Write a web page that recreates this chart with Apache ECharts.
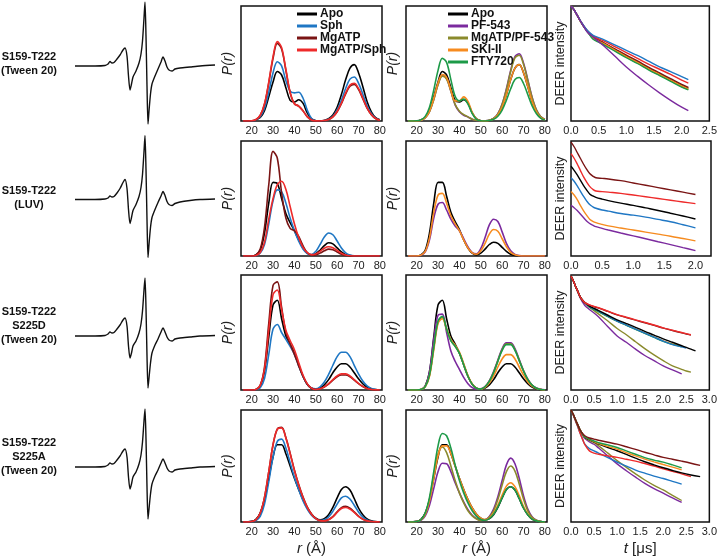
<!DOCTYPE html>
<html>
<head>
<meta charset="utf-8">
<script src="https://cdn.jsdelivr.net/npm/echarts@6/dist/echarts.min.js"></script>
<style>
html, body { margin: 0; padding: 0; background: #fff; }
#main { width: 720px; height: 557px; }
</style>
</head>
<body>
<div id="main"></div>
<script>
// distance axis (Å) shared by all P(r) curves
var R = [16, 20, 22, 24, 26, 28, 30, 32, 34, 36, 38, 40, 42, 44, 46, 48, 50, 52, 54, 56, 58, 60, 62, 64, 66, 68, 70, 72, 74, 76, 78, 80];

// row 1 : S159-T222 (Tween 20)
var prRow1A = {
  'Apo':       [0, 0, 0.01, 0.03, 0.09, 0.21, 0.34, 0.43, 0.40, 0.29, 0.18, 0.165, 0.185, 0.155, 0.07, 0.018, 0.003, 0, 0.005, 0.02, 0.053, 0.12, 0.23, 0.36, 0.46, 0.49, 0.42, 0.30, 0.17, 0.08, 0.03, 0.01],
  'Sph':       [0, 0, 0.01, 0.036, 0.11, 0.25, 0.42, 0.515, 0.48, 0.35, 0.26, 0.245, 0.25, 0.2, 0.095, 0.022, 0.003, 0, 0.004, 0.015, 0.042, 0.096, 0.18, 0.285, 0.364, 0.383, 0.33, 0.235, 0.135, 0.065, 0.025, 0.008],
  'MgATP':     [0, 0.002, 0.012, 0.048, 0.145, 0.33, 0.545, 0.675, 0.625, 0.44, 0.245, 0.15, 0.13, 0.09, 0.038, 0.009, 0.001, 0, 0.004, 0.013, 0.035, 0.08, 0.15, 0.236, 0.302, 0.318, 0.275, 0.195, 0.112, 0.055, 0.021, 0.007],
  'MgATP/Sph': [0, 0.002, 0.013, 0.05, 0.15, 0.34, 0.56, 0.69, 0.64, 0.45, 0.25, 0.15, 0.13, 0.09, 0.038, 0.009, 0.001, 0, 0.004, 0.013, 0.036, 0.083, 0.155, 0.244, 0.312, 0.328, 0.283, 0.2, 0.115, 0.056, 0.022, 0.007]
};
var prRow1B = {
  'Apo':          [0, 0, 0.01, 0.03, 0.09, 0.21, 0.34, 0.43, 0.40, 0.29, 0.18, 0.165, 0.185, 0.155, 0.07, 0.018, 0.003, 0, 0.005, 0.02, 0.053, 0.12, 0.23, 0.36, 0.46, 0.49, 0.42, 0.30, 0.17, 0.08, 0.03, 0.01],
  'PF-543':       [0, 0.001, 0.007, 0.028, 0.084, 0.19, 0.32, 0.395, 0.37, 0.26, 0.14, 0.08, 0.05, 0.035, 0.016, 0.005, 0.001, 0.002, 0.007, 0.023, 0.064, 0.148, 0.28, 0.44, 0.56, 0.585, 0.505, 0.36, 0.21, 0.1, 0.04, 0.013],
  'MgATP/PF-543': [0, 0.001, 0.007, 0.028, 0.082, 0.185, 0.315, 0.39, 0.365, 0.26, 0.145, 0.085, 0.055, 0.036, 0.016, 0.005, 0.001, 0.002, 0.007, 0.022, 0.062, 0.144, 0.272, 0.43, 0.548, 0.572, 0.494, 0.352, 0.205, 0.098, 0.039, 0.013],
  'SKI-II':       [0, 0.001, 0.007, 0.029, 0.086, 0.197, 0.33, 0.405, 0.38, 0.27, 0.175, 0.175, 0.21, 0.17, 0.076, 0.018, 0.002, 0, 0.005, 0.019, 0.053, 0.12, 0.23, 0.36, 0.46, 0.49, 0.42, 0.30, 0.17, 0.08, 0.03, 0.01],
  'FTY720':       [0, 0.002, 0.01, 0.04, 0.12, 0.27, 0.44, 0.545, 0.51, 0.36, 0.215, 0.175, 0.19, 0.147, 0.065, 0.015, 0.002, 0, 0.004, 0.015, 0.041, 0.095, 0.18, 0.28, 0.36, 0.378, 0.326, 0.23, 0.133, 0.065, 0.025, 0.008]
};

// row 2 : S159-T222 (LUV)
var prRow2A = {
  'Apo':       [0, 0, 0.01, 0.05, 0.2, 0.46, 0.64, 0.63, 0.5, 0.37, 0.29, 0.22, 0.14, 0.07, 0.025, 0.01, 0.02, 0.05, 0.09, 0.115, 0.105, 0.07, 0.035, 0.012, 0.003, 0, 0, 0, 0, 0, 0, 0],
  'Sph':       [0, 0, 0.004, 0.025, 0.1, 0.28, 0.48, 0.575, 0.56, 0.46, 0.33, 0.22, 0.13, 0.06, 0.022, 0.012, 0.04, 0.1, 0.165, 0.2, 0.185, 0.13, 0.07, 0.028, 0.008, 0.001, 0, 0, 0, 0, 0, 0],
  'MgATP':     [0, 0, 0.01, 0.06, 0.25, 0.62, 0.91, 0.85, 0.55, 0.33, 0.24, 0.22, 0.17, 0.09, 0.03, 0.008, 0.01, 0.025, 0.045, 0.06, 0.055, 0.035, 0.015, 0.005, 0.001, 0, 0, 0, 0, 0, 0, 0],
  'MgATP/Sph': [0, 0, 0.005, 0.03, 0.12, 0.32, 0.5, 0.62, 0.65, 0.58, 0.43, 0.28, 0.16, 0.075, 0.03, 0.012, 0.018, 0.04, 0.068, 0.08, 0.072, 0.048, 0.024, 0.009, 0.002, 0, 0, 0, 0, 0, 0, 0]
};
var prRow2B = {
  'Apo':    [0, 0, 0.01, 0.05, 0.2, 0.46, 0.64, 0.64, 0.52, 0.38, 0.3, 0.23, 0.14, 0.07, 0.025, 0.01, 0.025, 0.06, 0.1, 0.12, 0.11, 0.075, 0.04, 0.015, 0.004, 0, 0, 0, 0, 0, 0, 0],
  'PF-543': [0, 0, 0.006, 0.035, 0.14, 0.33, 0.45, 0.465, 0.4, 0.32, 0.26, 0.22, 0.15, 0.08, 0.03, 0.02, 0.065, 0.16, 0.27, 0.32, 0.3, 0.21, 0.11, 0.045, 0.014, 0.003, 0, 0, 0, 0, 0, 0],
  'SKI-II': [0, 0, 0.008, 0.04, 0.16, 0.38, 0.53, 0.545, 0.46, 0.35, 0.28, 0.22, 0.14, 0.07, 0.028, 0.015, 0.045, 0.11, 0.19, 0.23, 0.215, 0.15, 0.08, 0.032, 0.01, 0.002, 0, 0, 0, 0, 0, 0]
};

// row 3 : S159-T222 S225D (Tween 20)
var prRow3A = {
  'Apo':       [0, 0, 0.005, 0.035, 0.16, 0.46, 0.74, 0.78, 0.62, 0.47, 0.4, 0.32, 0.22, 0.12, 0.05, 0.015, 0.006, 0.018, 0.045, 0.09, 0.15, 0.2, 0.228, 0.228, 0.2, 0.15, 0.097, 0.054, 0.025, 0.01, 0.003, 0],
  'Sph':       [0, 0, 0.003, 0.02, 0.1, 0.31, 0.53, 0.57, 0.5, 0.44, 0.38, 0.31, 0.21, 0.12, 0.05, 0.017, 0.01, 0.028, 0.07, 0.135, 0.215, 0.29, 0.328, 0.328, 0.29, 0.215, 0.14, 0.078, 0.036, 0.014, 0.004, 0.001],
  'MgATP':     [0, 0, 0.005, 0.04, 0.2, 0.58, 0.91, 0.94, 0.72, 0.5, 0.4, 0.31, 0.21, 0.12, 0.05, 0.015, 0.004, 0.01, 0.025, 0.05, 0.085, 0.115, 0.13, 0.13, 0.115, 0.085, 0.055, 0.03, 0.013, 0.005, 0.001, 0],
  'MgATP/Sph': [0, 0, 0.005, 0.04, 0.18, 0.52, 0.83, 0.87, 0.7, 0.52, 0.43, 0.35, 0.24, 0.13, 0.055, 0.016, 0.004, 0.01, 0.027, 0.055, 0.09, 0.122, 0.14, 0.14, 0.122, 0.09, 0.058, 0.032, 0.014, 0.005, 0.001, 0]
};
var prRow3B = {
  'Apo':          [0, 0, 0.005, 0.035, 0.16, 0.46, 0.74, 0.78, 0.62, 0.47, 0.4, 0.32, 0.22, 0.12, 0.05, 0.015, 0.006, 0.018, 0.045, 0.09, 0.15, 0.2, 0.228, 0.228, 0.2, 0.15, 0.097, 0.054, 0.025, 0.01, 0.003, 0],
  'PF-543':       [0, 0, 0.005, 0.035, 0.16, 0.44, 0.65, 0.66, 0.5, 0.34, 0.25, 0.18, 0.11, 0.055, 0.02, 0.006, 0.01, 0.03, 0.08, 0.16, 0.26, 0.36, 0.41, 0.41, 0.36, 0.265, 0.17, 0.095, 0.044, 0.017, 0.006, 0.002],
  'MgATP/PF-543': [0, 0, 0.004, 0.03, 0.13, 0.37, 0.59, 0.63, 0.53, 0.43, 0.38, 0.32, 0.22, 0.12, 0.05, 0.015, 0.008, 0.028, 0.076, 0.152, 0.253, 0.35, 0.402, 0.402, 0.35, 0.258, 0.167, 0.091, 0.043, 0.016, 0.005, 0.001],
  'SKI-II':       [0, 0, 0.004, 0.028, 0.12, 0.35, 0.58, 0.62, 0.53, 0.44, 0.39, 0.33, 0.23, 0.125, 0.052, 0.016, 0.007, 0.022, 0.06, 0.12, 0.2, 0.27, 0.308, 0.308, 0.27, 0.2, 0.13, 0.072, 0.033, 0.013, 0.004, 0.001],
  'FTY720':       [0, 0, 0.004, 0.03, 0.13, 0.37, 0.6, 0.64, 0.53, 0.43, 0.38, 0.32, 0.22, 0.12, 0.05, 0.015, 0.008, 0.028, 0.075, 0.15, 0.25, 0.345, 0.395, 0.395, 0.345, 0.255, 0.165, 0.09, 0.042, 0.016, 0.005, 0.001]
};

// row 4 : S159-T222 S225A (Tween 20)
var prRow4A = {
  'Apo':       [0, 0.006, 0.025, 0.08, 0.2, 0.39, 0.58, 0.69, 0.69, 0.61, 0.5, 0.39, 0.29, 0.2, 0.125, 0.07, 0.035, 0.02, 0.03, 0.065, 0.13, 0.215, 0.29, 0.315, 0.285, 0.21, 0.125, 0.065, 0.027, 0.01, 0.003, 0.001],
  'Sph':       [0, 0.003, 0.013, 0.05, 0.16, 0.36, 0.58, 0.72, 0.74, 0.66, 0.53, 0.4, 0.29, 0.19, 0.115, 0.06, 0.028, 0.015, 0.02, 0.045, 0.095, 0.16, 0.215, 0.23, 0.205, 0.15, 0.09, 0.045, 0.018, 0.006, 0.002, 0],
  'MgATP':     [0, 0.005, 0.02, 0.08, 0.22, 0.45, 0.69, 0.83, 0.845, 0.755, 0.615, 0.465, 0.335, 0.225, 0.135, 0.072, 0.032, 0.013, 0.011, 0.022, 0.048, 0.09, 0.128, 0.14, 0.124, 0.09, 0.053, 0.026, 0.011, 0.004, 0.001, 0],
  'MgATP/Sph': [0, 0.005, 0.02, 0.08, 0.22, 0.45, 0.69, 0.83, 0.84, 0.75, 0.61, 0.46, 0.33, 0.22, 0.13, 0.07, 0.03, 0.012, 0.01, 0.02, 0.045, 0.085, 0.12, 0.13, 0.115, 0.085, 0.05, 0.025, 0.01, 0.004, 0.001, 0]
};
var prRow4B = {
  'Apo':          [0, 0.006, 0.025, 0.08, 0.2, 0.39, 0.58, 0.69, 0.69, 0.61, 0.5, 0.39, 0.29, 0.2, 0.125, 0.07, 0.035, 0.02, 0.03, 0.065, 0.13, 0.215, 0.29, 0.315, 0.285, 0.21, 0.125, 0.065, 0.027, 0.01, 0.003, 0.001],
  'PF-543':       [0, 0.004, 0.015, 0.055, 0.15, 0.3, 0.45, 0.525, 0.52, 0.45, 0.35, 0.26, 0.18, 0.11, 0.06, 0.03, 0.015, 0.02, 0.05, 0.115, 0.225, 0.37, 0.51, 0.57, 0.52, 0.39, 0.235, 0.115, 0.048, 0.017, 0.005, 0.001],
  'MgATP/PF-543': [0, 0.004, 0.018, 0.07, 0.2, 0.42, 0.61, 0.67, 0.62, 0.5, 0.37, 0.26, 0.17, 0.1, 0.055, 0.027, 0.014, 0.018, 0.045, 0.1, 0.2, 0.33, 0.45, 0.5, 0.455, 0.34, 0.205, 0.1, 0.042, 0.015, 0.004, 0.001],
  'SKI-II':       [0, 0.005, 0.02, 0.07, 0.19, 0.39, 0.59, 0.68, 0.68, 0.61, 0.5, 0.39, 0.29, 0.2, 0.125, 0.07, 0.035, 0.022, 0.035, 0.08, 0.15, 0.24, 0.32, 0.35, 0.315, 0.235, 0.14, 0.072, 0.03, 0.011, 0.003, 0.001],
  'FTY720':       [0, 0.005, 0.02, 0.08, 0.22, 0.45, 0.68, 0.79, 0.77, 0.66, 0.51, 0.37, 0.26, 0.17, 0.1, 0.05, 0.022, 0.015, 0.03, 0.07, 0.135, 0.215, 0.29, 0.315, 0.285, 0.21, 0.125, 0.065, 0.027, 0.01, 0.003, 0.001]
};

// DEER time axes (µs) and normalised echo decays
var T1 = [0, 0.05, 0.1, 0.15, 0.2, 0.25, 0.3, 0.4, 0.5, 0.6, 0.8, 1.0, 1.2, 1.4, 1.6, 1.8, 2.0, 2.12];
var deerRow1 = {
  'Apo':          [1, .97, .93, .885, .845, .81, .78, .725, .7, .675, .62, .565, .515, .46, .41, .36, .31, .285],
  'MgATP':        [1, .97, .93, .885, .845, .81, .78, .728, .703, .678, .625, .572, .522, .468, .418, .368, .318, .292],
  'MgATP/PF-543': [1, .97, .93, .885, .845, .808, .776, .715, .69, .664, .61, .555, .505, .45, .4, .35, .3, .275],
  'SKI-II':       [1, .97, .93, .885, .845, .81, .778, .72, .695, .67, .615, .56, .51, .455, .405, .355, .305, .28],
  'FTY720':       [1, .97, .93, .885, .845, .806, .774, .71, .685, .66, .605, .55, .5, .445, .395, .345, .295, .27],
  'MgATP/Sph':    [1, .97, .93, .888, .848, .813, .783, .74, .715, .695, .645, .595, .545, .495, .45, .405, .355, .33],
  'Sph':          [1, .97, .93, .89, .85, .815, .785, .745, .725, .705, .66, .615, .57, .52, .47, .43, .385, .36],
  'PF-543':       [1, .97, .93, .885, .845, .805, .77, .73, .69, .65, .56, .47, .39, .315, .245, .18, .12, .09]
};
var T2 = [0, 0.05, 0.1, 0.15, 0.2, 0.25, 0.3, 0.35, 0.4, 0.5, 0.6, 0.8, 1.0, 1.2, 1.4, 1.6, 1.8, 2.0];
var deerRow2 = {
  'MgATP':     [0.99, 0.95, 0.90, 0.85, 0.80, 0.755, 0.717, 0.695, 0.68, 0.675, 0.67, 0.655, 0.635, 0.615, 0.595, 0.575, 0.555, 0.535],
  'MgATP/Sph': [0.89, 0.85, 0.80, 0.745, 0.69, 0.645, 0.605, 0.58, 0.565, 0.56, 0.555, 0.545, 0.53, 0.515, 0.5, 0.485, 0.47, 0.455],
  'Apo':       [0.78, 0.745, 0.705, 0.66, 0.615, 0.575, 0.54, 0.522, 0.51, 0.495, 0.482, 0.46, 0.44, 0.418, 0.396, 0.372, 0.348, 0.322],
  'Sph':       [0.68, 0.65, 0.61, 0.565, 0.52, 0.48, 0.447, 0.428, 0.415, 0.40, 0.39, 0.37, 0.355, 0.338, 0.318, 0.298, 0.272, 0.245],
  'SKI-II':    [0.56, 0.53, 0.49, 0.44, 0.395, 0.355, 0.32, 0.302, 0.29, 0.275, 0.262, 0.243, 0.226, 0.208, 0.19, 0.172, 0.152, 0.132],
  'PF-543':    [0.44, 0.42, 0.395, 0.365, 0.335, 0.305, 0.283, 0.268, 0.255, 0.24, 0.226, 0.2, 0.175, 0.15, 0.124, 0.099, 0.073, 0.047]
};
var T3 = [0, 0.05, 0.1, 0.15, 0.2, 0.25, 0.3, 0.4, 0.5, 0.6, 0.8, 1.0, 1.2, 1.4, 1.6, 1.8, 2.0, 2.2, 2.4, 2.5, 2.6, 2.7];
var deerRow3 = {
  'PF-543':       [0.99, 0.95, 0.9, 0.85, 0.8, 0.765, 0.735, 0.7, 0.67, 0.635, 0.55, 0.47, 0.415, 0.355, 0.3, 0.255, 0.21, 0.175, 0.14],
  'MgATP/PF-543': [0.99, 0.95, 0.9, 0.855, 0.81, 0.78, 0.76, 0.72, 0.69, 0.66, 0.6, 0.535, 0.48, 0.42, 0.36, 0.305, 0.255, 0.21, 0.18, 0.165, 0.155],
  'SKI-II':       [0.99, 0.95, 0.9, 0.855, 0.81, 0.78, 0.76, 0.722, 0.702, 0.682, 0.64, 0.6, 0.565, 0.53, 0.495, 0.462, 0.428, 0.4, 0.38],
  'FTY720':       [0.99, 0.95, 0.9, 0.855, 0.81, 0.78, 0.76, 0.72, 0.7, 0.68, 0.638, 0.598, 0.563, 0.528, 0.493, 0.458, 0.423, 0.397, 0.375],
  'Sph':          [0.99, 0.95, 0.9, 0.855, 0.81, 0.78, 0.76, 0.725, 0.705, 0.685, 0.642, 0.6, 0.565, 0.53, 0.495, 0.46, 0.425, 0.395, 0.375, 0.365],
  'Apo':          [0.99, 0.95, 0.9, 0.855, 0.81, 0.78, 0.76, 0.73, 0.71, 0.69, 0.65, 0.61, 0.578, 0.545, 0.51, 0.478, 0.445, 0.415, 0.385, 0.37, 0.355, 0.34],
  'MgATP':        [0.99, 0.95, 0.9, 0.855, 0.81, 0.78, 0.76, 0.738, 0.724, 0.712, 0.683, 0.653, 0.63, 0.607, 0.585, 0.562, 0.538, 0.517, 0.497, 0.487, 0.477],
  'MgATP/Sph':    [0.99, 0.95, 0.9, 0.855, 0.81, 0.78, 0.76, 0.74, 0.727, 0.715, 0.685, 0.655, 0.633, 0.61, 0.588, 0.565, 0.54, 0.52, 0.5, 0.49, 0.48]
};
var T4 = [0, 0.05, 0.1, 0.15, 0.2, 0.25, 0.3, 0.4, 0.5, 0.6, 0.8, 1.0, 1.2, 1.4, 1.6, 1.8, 2.0, 2.2, 2.4, 2.6, 2.8];
var deerRow4 = {
  'PF-543':       [1, .96, .91, .86, .81, .775, .745, .715, .694, .66, .59, .519, .458, .4, .345, .298, .257, .215, .175],
  'MgATP/PF-543': [1, .96, .91, .86, .815, .78, .755, .728, .708, .68, .615, .548, .488, .43, .375, .328, .286, .238, .192],
  'Sph':          [1, .955, .9, .845, .79, .74, .695, .655, .635, .615, .575, .534, .498, .464, .436, .41, .388, .363, .338],
  'MgATP/Sph':    [1, .955, .9, .85, .79, .74, .69, .635, .615, .605, .59, .577, .56, .543, .522, .5, .475, .452, .43, .405],
  'Apo':          [1, .96, .91, .865, .82, .785, .757, .735, .715, .695, .665, .636, .603, .57, .538, .51, .484, .46, .438, .42, .405],
  'SKI-II':       [1, .96, .91, .865, .82, .785, .76, .738, .718, .70, .675, .65, .62, .59, .562, .537, .513, .49, .466],
  'FTY720':       [1, .96, .91, .865, .82, .785, .76, .74, .723, .708, .688, .665, .635, .605, .575, .553, .534, .51, .484],
  'MgATP':        [1, .96, .91, .865, .82, .79, .77, .75, .74, .73, .712, .695, .672, .648, .623, .6, .577, .56, .543, .525, .505]
};

// CW EPR spectra (field offset, derivative amplitude)
var FIELD = [0, 20, 30, 33, 35, 37, 39, 42, 45, 48, 50, 52, 53.5, 55, 56.5, 58, 61, 64, 66, 67.5, 69, 70, 71, 72, 73, 74, 75.5, 77, 80, 83, 86, 88, 90, 92, 94, 97, 100, 105, 115, 125, 140];
var epr1 = [0, 0, 0.5, 2, 4.5, 3, 3.5, 7, 11, 16, 18, 10, -10, -24, -18, -11, -5, 3, 12, 25, 48, 64, 30, -20, -58, -45, -28, -18, -10, -3, 4, 9, 5, -1, -4, -5, -3, -2, -1, 0, 1];
var epr2 = [0, 0, 0.5, 1.5, 3.5, 2.5, 3, 6.5, 11, 17, 20, 11, -10, -24, -18, -11, -5, 3, 12, 25, 48, 64, 30, -20, -58, -45, -28, -18, -10, -3, 3.5, 8, 4, -2, -5, -6, -4, -2.5, -1, 0, 0.5];
var epr3 = [0, 0, 0.5, 2, 4, 3, 3.5, 7, 11, 16, 18, 10, -10, -22, -17, -10, -5, 3, 12, 25, 46, 58, 28, -20, -52, -42, -27, -17, -9, -3, 4, 8, 4, -1, -4, -5, -3, -2, -1, 0, 0.5];
var epr4 = [0, 0, 0.5, 2, 4, 3, 3.5, 7, 11, 16, 18, 10, -10, -22, -17, -10, -5, 3, 12, 25, 46, 58, 28, -20, -52, -42, -27, -17, -9, -3, 4, 8, 4, -1, -4, -5, -3, -2, -1, 0, 0.5];

var sampleLabels = [
  ['S159-T222', '(Tween 20)'],
  ['S159-T222', '(LUV)'],
  ['S159-T222', 'S225D', '(Tween 20)'],
  ['S159-T222', 'S225A', '(Tween 20)']
];

var COLORS = {
  'Apo': '#000000',
  'Sph': '#1f77c4',
  'MgATP': '#7a1414',
  'MgATP/Sph': '#ee2a2a',
  'PF-543': '#7b2a9e',
  'MgATP/PF-543': '#8a8a2c',
  'SKI-II': '#f68b1f',
  'FTY720': '#1d9a48'
};

var FONT = '"Liberation Sans", Arial, sans-serif';
var rowTop = [6, 141, 275, 410], boxH = 115;
var colLeft = [241, 406, 571], colW = [141, 141, 140];
var eprBase = [66, 199.5, 336, 467];
var deerMax = [2.5, 2.25, 3.0, 3.0];

var prPanels = [[prRow1A, prRow1B], [prRow2A, prRow2B], [prRow3A, prRow3B], [prRow4A, prRow4B]];
var deerPanels = [[T1, deerRow1], [T2, deerRow2], [T3, deerRow3], [T4, deerRow4]];
var eprTraces = [epr1, epr2, epr3, epr4];

var chart = echarts.init(document.getElementById('main'));
var grids = [], xAxes = [], yAxes = [], series = [], graphics = [];

function lineSeries(name, gi, data, width) {
  return {
    name: name, type: 'line', xAxisIndex: gi, yAxisIndex: gi,
    data: data, showSymbol: false, symbol: 'none', smooth: 0.35,
    lineStyle: { color: COLORS[name], width: width },
    itemStyle: { color: COLORS[name] },
    emphasis: { disabled: true }
  };
}

var labelStyle = { fontSize: 11, color: '#222', fontFamily: FONT, margin: 4 };

for (var k = 0; k < 4; k++) {
  var bottom = (k === 3);
  for (var c = 0; c < 3; c++) {
    grids.push({ left: colLeft[c], top: rowTop[k], width: colW[c], height: boxH,
      show: true, borderColor: '#111', borderWidth: 1.5, backgroundColor: 'transparent' });
    var gi = grids.length - 1;
    if (c < 2) {
      xAxes.push({ gridIndex: gi, type: 'value', min: 15, max: 81, interval: 5,
        axisLine: { show: false }, axisTick: { show: false }, splitLine: { show: false },
        axisLabel: Object.assign({ formatter: function (v) { return v % 10 === 0 ? String(v) : ''; } }, labelStyle),
        name: bottom ? '{i|r} (Å)' : '', nameLocation: 'middle', nameGap: 19,
        nameTextStyle: { fontSize: 15, color: '#222', fontFamily: FONT, rich: { i: { fontStyle: 'italic', fontSize: 15, fontFamily: FONT } } } });
      yAxes.push({ gridIndex: gi, type: 'value', min: 0, max: 1,
        axisLine: { show: false }, axisTick: { show: false }, axisLabel: { show: false }, splitLine: { show: false },
        name: 'P(r)', nameLocation: 'middle', nameGap: 6,
        nameTextStyle: { fontSize: 14, fontStyle: 'italic', color: '#222', fontFamily: FONT } });
      var panel = prPanels[k][c];
      Object.keys(panel).forEach(function (name) {
        var vals = panel[name];
        series.push(lineSeries(name, gi, R.map(function (r, i) { return [r, vals[i]]; }), 1.6));
      });
    } else {
      xAxes.push({ gridIndex: gi, type: 'value', min: 0, max: deerMax[k], interval: 0.5,
        axisLine: { show: false }, axisTick: { show: false }, splitLine: { show: false },
        axisLabel: Object.assign({ formatter: function (v) {
          var h = v * 2; return Math.abs(h - Math.round(h)) < 1e-6 ? v.toFixed(1) : ''; } }, labelStyle),
        name: bottom ? '{i|t} [μs]' : '', nameLocation: 'middle', nameGap: 19,
        nameTextStyle: { fontSize: 15, color: '#222', fontFamily: FONT, rich: { i: { fontStyle: 'italic', fontSize: 15, fontFamily: FONT } } } });
      yAxes.push({ gridIndex: gi, type: 'value', min: 0, max: 1,
        axisLine: { show: false }, axisTick: { show: false }, axisLabel: { show: false }, splitLine: { show: false },
        name: 'DEER intensity', nameLocation: 'middle', nameGap: 4,
        nameTextStyle: { fontSize: 12.5, color: '#222', fontFamily: FONT } });
      var T = deerPanels[k][0], dp = deerPanels[k][1];
      Object.keys(dp).forEach(function (name) {
        var vals = dp[name];
        series.push(lineSeries(name, gi, vals.map(function (v, i) { return [T[i], v]; }), 1.4));
      });
    }
  }
  // spectrum panel (no axes)
  grids.push({ left: 75, top: eprBase[k] - 64, width: 140, height: 128, show: false });
  var sgi = grids.length - 1;
  xAxes.push({ gridIndex: sgi, type: 'value', min: 0, max: 140, show: false });
  yAxes.push({ gridIndex: sgi, type: 'value', min: -64, max: 64, show: false });
  var tr = eprTraces[k];
  series.push({ name: 'EPR ' + (k + 1), type: 'line', xAxisIndex: sgi, yAxisIndex: sgi,
    data: FIELD.map(function (f, i) { return [f, tr[i]]; }), showSymbol: false, symbol: 'none',
    smooth: 0.25, lineStyle: { color: '#111', width: 1.4 }, emphasis: { disabled: true } });

  graphics.push({ type: 'text', x: 29, y: eprBase[k] - (k < 2 ? 2 : 10),
    style: { text: sampleLabels[k].join('\n'), font: 'bold 11px ' + FONT, fill: '#111',
      align: 'center', verticalAlign: 'middle', lineHeight: 14 } });
}

var legendBase = { orient: 'vertical', top: 8, padding: 0, itemGap: 0, icon: 'rect',
  itemWidth: 20, itemHeight: 3, selectedMode: false,
  textStyle: { fontSize: 12, fontWeight: 'bold', color: '#111', fontFamily: FONT, lineHeight: 12, padding: [0, 0, 0, -2] } };

chart.setOption({
  animation: false,
  backgroundColor: '#fff',
  grid: grids,
  xAxis: xAxes,
  yAxis: yAxes,
  legend: [
    Object.assign({ left: 297, data: ['Apo', 'Sph', 'MgATP', 'MgATP/Sph'] }, legendBase),
    Object.assign({ left: 448, data: ['Apo', 'PF-543', 'MgATP/PF-543', 'SKI-II', 'FTY720'] }, legendBase)
  ],
  graphic: graphics,
  series: series
});
</script>
</body>
</html>
